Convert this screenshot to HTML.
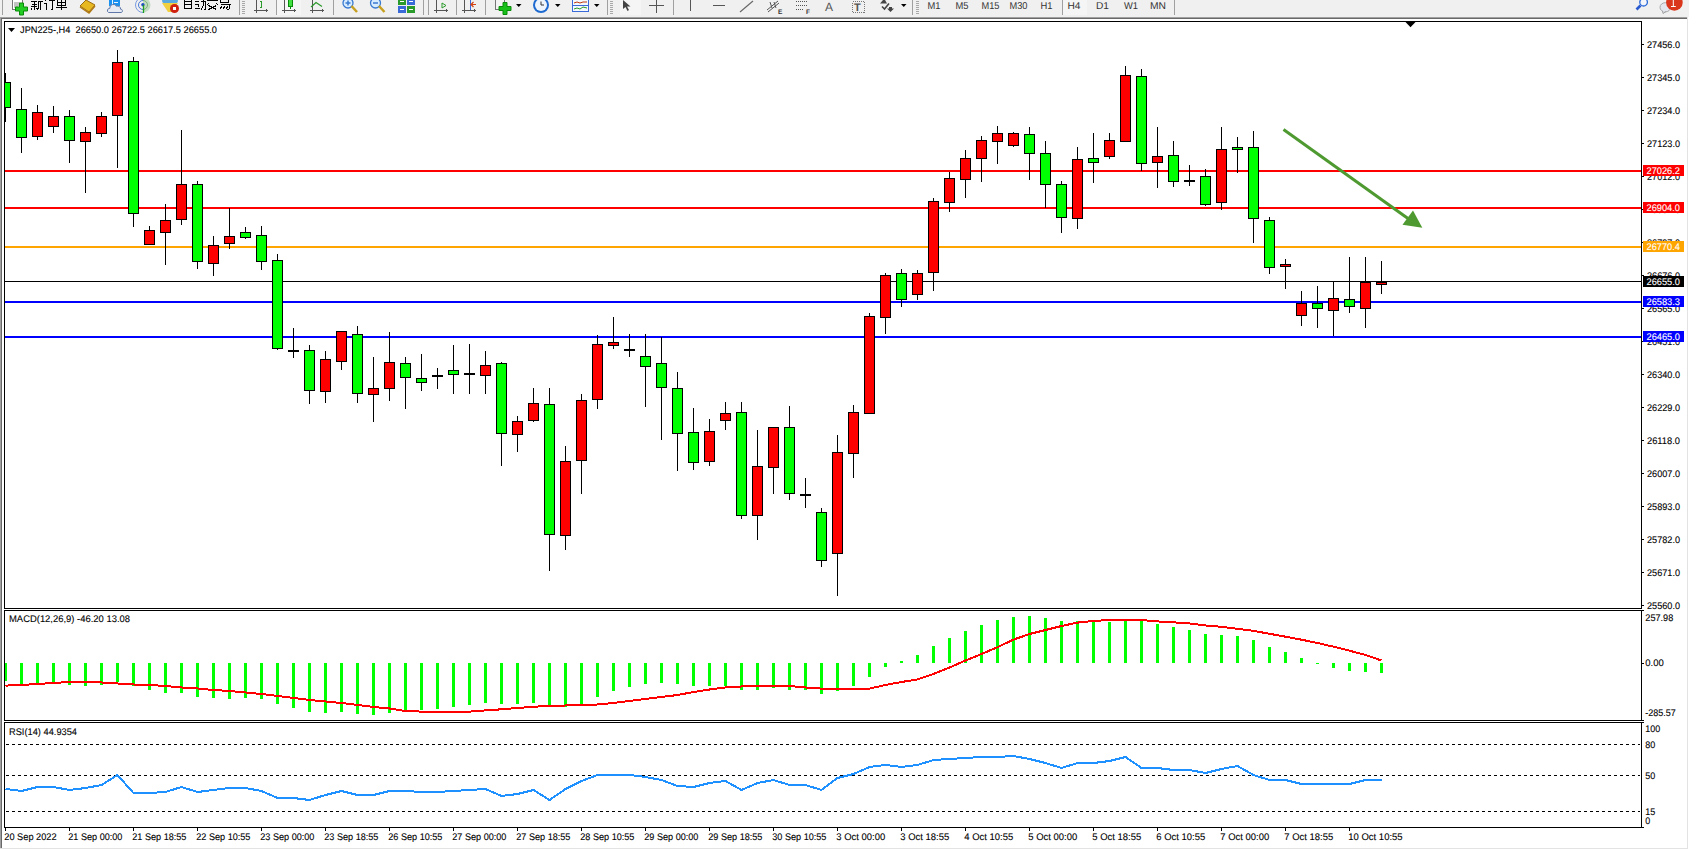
<!DOCTYPE html>
<html><head><meta charset="utf-8"><title>MT4 JPN225 H4</title>
<style>html,body{margin:0;padding:0;background:#fff;width:1689px;height:850px;overflow:hidden}</style>
</head><body>
<svg width="1689" height="850" viewBox="0 0 1689 850" style="display:block">
<rect x="0" y="0" width="1689" height="850" fill="#ffffff"/>
<rect x="0" y="0" width="1689" height="17" fill="#f0f0f0"/>
<g shape-rendering="crispEdges">
<rect x="0" y="17" width="1688" height="1" fill="#a0a0a0"/>
<rect x="1" y="18" width="1686" height="1" fill="#696969"/>
<rect x="0" y="17" width="1" height="832" fill="#a0a0a0"/>
<rect x="1" y="18" width="1" height="830" fill="#696969"/>
<rect x="1687" y="17" width="1" height="832" fill="#e3e3e3"/>
<rect x="0" y="848" width="1688" height="1" fill="#e3e3e3"/>
<rect x="4" y="21" width="1638" height="1" fill="#000"/>
<rect x="4" y="608" width="1638" height="1" fill="#000"/>
<rect x="4" y="21" width="1" height="588" fill="#000"/>
<rect x="1641" y="21" width="1" height="588" fill="#000"/>
<rect x="4" y="610" width="1638" height="1" fill="#000"/>
<rect x="4" y="720" width="1638" height="1" fill="#000"/>
<rect x="4" y="610" width="1" height="111" fill="#000"/>
<rect x="1641" y="610" width="1" height="111" fill="#000"/>
<rect x="4" y="722" width="1638" height="1" fill="#000"/>
<rect x="4" y="827" width="1638" height="1" fill="#000"/>
<rect x="4" y="722" width="1" height="106" fill="#000"/>
<rect x="1641" y="722" width="1" height="106" fill="#000"/>
<defs><clipPath id="cm"><rect x="5" y="22" width="1636" height="586"/></clipPath><clipPath id="cd"><rect x="5" y="611" width="1636" height="108"/></clipPath><clipPath id="cr"><rect x="5" y="723" width="1636" height="104"/></clipPath></defs>
<g clip-path="url(#cm)">
<rect x="5" y="170" width="1636" height="2" fill="#ff0000"/>
<rect x="5" y="207" width="1636" height="2" fill="#ff0000"/>
<rect x="5" y="246" width="1636" height="2" fill="#ffa500"/>
<rect x="5" y="281" width="1636" height="1" fill="#000"/>
<rect x="5" y="301" width="1636" height="2" fill="#0000ff"/>
<rect x="5" y="336" width="1636" height="2" fill="#0000ff"/>
<rect x="5" y="73" width="1" height="49" fill="#000"/>
<rect x="0" y="82" width="11" height="26" fill="#000"/>
<rect x="1" y="83" width="9" height="24" fill="#00ff00"/>
<rect x="21" y="88" width="1" height="65" fill="#000"/>
<rect x="16" y="109" width="11" height="29" fill="#000"/>
<rect x="17" y="110" width="9" height="27" fill="#00ff00"/>
<rect x="37" y="105" width="1" height="35" fill="#000"/>
<rect x="32" y="112" width="11" height="25" fill="#000"/>
<rect x="33" y="113" width="9" height="23" fill="#ff0000"/>
<rect x="53" y="106" width="1" height="27" fill="#000"/>
<rect x="48" y="116" width="11" height="11" fill="#000"/>
<rect x="49" y="117" width="9" height="9" fill="#ff0000"/>
<rect x="69" y="110" width="1" height="53" fill="#000"/>
<rect x="64" y="116" width="11" height="25" fill="#000"/>
<rect x="65" y="117" width="9" height="23" fill="#00ff00"/>
<rect x="85" y="127" width="1" height="66" fill="#000"/>
<rect x="80" y="132" width="11" height="10" fill="#000"/>
<rect x="81" y="133" width="9" height="8" fill="#ff0000"/>
<rect x="101" y="112" width="1" height="25" fill="#000"/>
<rect x="96" y="116" width="11" height="18" fill="#000"/>
<rect x="97" y="117" width="9" height="16" fill="#ff0000"/>
<rect x="117" y="50" width="1" height="118" fill="#000"/>
<rect x="112" y="62" width="11" height="54" fill="#000"/>
<rect x="113" y="63" width="9" height="52" fill="#ff0000"/>
<rect x="133" y="57" width="1" height="170" fill="#000"/>
<rect x="128" y="61" width="11" height="153" fill="#000"/>
<rect x="129" y="62" width="9" height="151" fill="#00ff00"/>
<rect x="149" y="226" width="1" height="19" fill="#000"/>
<rect x="144" y="230" width="11" height="15" fill="#000"/>
<rect x="145" y="231" width="9" height="13" fill="#ff0000"/>
<rect x="165" y="204" width="1" height="61" fill="#000"/>
<rect x="160" y="220" width="11" height="13" fill="#000"/>
<rect x="161" y="221" width="9" height="11" fill="#ff0000"/>
<rect x="181" y="130" width="1" height="95" fill="#000"/>
<rect x="176" y="184" width="11" height="36" fill="#000"/>
<rect x="177" y="185" width="9" height="34" fill="#ff0000"/>
<rect x="197" y="181" width="1" height="88" fill="#000"/>
<rect x="192" y="184" width="11" height="78" fill="#000"/>
<rect x="193" y="185" width="9" height="76" fill="#00ff00"/>
<rect x="213" y="236" width="1" height="40" fill="#000"/>
<rect x="208" y="245" width="11" height="19" fill="#000"/>
<rect x="209" y="246" width="9" height="17" fill="#ff0000"/>
<rect x="229" y="208" width="1" height="41" fill="#000"/>
<rect x="224" y="236" width="11" height="8" fill="#000"/>
<rect x="225" y="237" width="9" height="6" fill="#ff0000"/>
<rect x="245" y="227" width="1" height="12" fill="#000"/>
<rect x="240" y="232" width="11" height="6" fill="#000"/>
<rect x="241" y="233" width="9" height="4" fill="#00ff00"/>
<rect x="261" y="226" width="1" height="44" fill="#000"/>
<rect x="256" y="235" width="11" height="27" fill="#000"/>
<rect x="257" y="236" width="9" height="25" fill="#00ff00"/>
<rect x="277" y="254" width="1" height="96" fill="#000"/>
<rect x="272" y="260" width="11" height="89" fill="#000"/>
<rect x="273" y="261" width="9" height="87" fill="#00ff00"/>
<rect x="293" y="328" width="1" height="30" fill="#000"/>
<rect x="288" y="350" width="11" height="2" fill="#000"/>
<rect x="309" y="345" width="1" height="59" fill="#000"/>
<rect x="304" y="350" width="11" height="41" fill="#000"/>
<rect x="305" y="351" width="9" height="39" fill="#00ff00"/>
<rect x="325" y="351" width="1" height="52" fill="#000"/>
<rect x="320" y="359" width="11" height="33" fill="#000"/>
<rect x="321" y="360" width="9" height="31" fill="#ff0000"/>
<rect x="341" y="331" width="1" height="39" fill="#000"/>
<rect x="336" y="331" width="11" height="31" fill="#000"/>
<rect x="337" y="332" width="9" height="29" fill="#ff0000"/>
<rect x="357" y="326" width="1" height="77" fill="#000"/>
<rect x="352" y="334" width="11" height="60" fill="#000"/>
<rect x="353" y="335" width="9" height="58" fill="#00ff00"/>
<rect x="373" y="357" width="1" height="65" fill="#000"/>
<rect x="368" y="388" width="11" height="7" fill="#000"/>
<rect x="369" y="389" width="9" height="5" fill="#ff0000"/>
<rect x="389" y="332" width="1" height="69" fill="#000"/>
<rect x="384" y="362" width="11" height="27" fill="#000"/>
<rect x="385" y="363" width="9" height="25" fill="#ff0000"/>
<rect x="405" y="357" width="1" height="52" fill="#000"/>
<rect x="400" y="363" width="11" height="15" fill="#000"/>
<rect x="401" y="364" width="9" height="13" fill="#00ff00"/>
<rect x="421" y="354" width="1" height="37" fill="#000"/>
<rect x="416" y="378" width="11" height="5" fill="#000"/>
<rect x="417" y="379" width="9" height="3" fill="#00ff00"/>
<rect x="437" y="368" width="1" height="21" fill="#000"/>
<rect x="432" y="375" width="11" height="2" fill="#000"/>
<rect x="453" y="345" width="1" height="49" fill="#000"/>
<rect x="448" y="370" width="11" height="5" fill="#000"/>
<rect x="449" y="371" width="9" height="3" fill="#00ff00"/>
<rect x="469" y="344" width="1" height="50" fill="#000"/>
<rect x="464" y="373" width="11" height="2" fill="#000"/>
<rect x="485" y="351" width="1" height="43" fill="#000"/>
<rect x="480" y="365" width="11" height="11" fill="#000"/>
<rect x="481" y="366" width="9" height="9" fill="#ff0000"/>
<rect x="501" y="362" width="1" height="104" fill="#000"/>
<rect x="496" y="363" width="11" height="71" fill="#000"/>
<rect x="497" y="364" width="9" height="69" fill="#00ff00"/>
<rect x="517" y="416" width="1" height="36" fill="#000"/>
<rect x="512" y="421" width="11" height="14" fill="#000"/>
<rect x="513" y="422" width="9" height="12" fill="#ff0000"/>
<rect x="533" y="388" width="1" height="34" fill="#000"/>
<rect x="528" y="403" width="11" height="18" fill="#000"/>
<rect x="529" y="404" width="9" height="16" fill="#ff0000"/>
<rect x="549" y="388" width="1" height="183" fill="#000"/>
<rect x="544" y="404" width="11" height="131" fill="#000"/>
<rect x="545" y="405" width="9" height="129" fill="#00ff00"/>
<rect x="565" y="446" width="1" height="104" fill="#000"/>
<rect x="560" y="461" width="11" height="75" fill="#000"/>
<rect x="561" y="462" width="9" height="73" fill="#ff0000"/>
<rect x="581" y="394" width="1" height="100" fill="#000"/>
<rect x="576" y="400" width="11" height="61" fill="#000"/>
<rect x="577" y="401" width="9" height="59" fill="#ff0000"/>
<rect x="597" y="335" width="1" height="74" fill="#000"/>
<rect x="592" y="344" width="11" height="56" fill="#000"/>
<rect x="593" y="345" width="9" height="54" fill="#ff0000"/>
<rect x="613" y="317" width="1" height="32" fill="#000"/>
<rect x="608" y="342" width="11" height="4" fill="#000"/>
<rect x="609" y="343" width="9" height="2" fill="#ff0000"/>
<rect x="629" y="334" width="1" height="23" fill="#000"/>
<rect x="624" y="349" width="11" height="2" fill="#000"/>
<rect x="645" y="334" width="1" height="73" fill="#000"/>
<rect x="640" y="356" width="11" height="11" fill="#000"/>
<rect x="641" y="357" width="9" height="9" fill="#00ff00"/>
<rect x="661" y="337" width="1" height="103" fill="#000"/>
<rect x="656" y="363" width="11" height="25" fill="#000"/>
<rect x="657" y="364" width="9" height="23" fill="#00ff00"/>
<rect x="677" y="372" width="1" height="99" fill="#000"/>
<rect x="672" y="388" width="11" height="46" fill="#000"/>
<rect x="673" y="389" width="9" height="44" fill="#00ff00"/>
<rect x="693" y="408" width="1" height="62" fill="#000"/>
<rect x="688" y="432" width="11" height="31" fill="#000"/>
<rect x="689" y="433" width="9" height="29" fill="#00ff00"/>
<rect x="709" y="419" width="1" height="47" fill="#000"/>
<rect x="704" y="431" width="11" height="31" fill="#000"/>
<rect x="705" y="432" width="9" height="29" fill="#ff0000"/>
<rect x="725" y="402" width="1" height="28" fill="#000"/>
<rect x="720" y="413" width="11" height="8" fill="#000"/>
<rect x="721" y="414" width="9" height="6" fill="#ff0000"/>
<rect x="741" y="402" width="1" height="117" fill="#000"/>
<rect x="736" y="412" width="11" height="104" fill="#000"/>
<rect x="737" y="413" width="9" height="102" fill="#00ff00"/>
<rect x="757" y="430" width="1" height="110" fill="#000"/>
<rect x="752" y="466" width="11" height="50" fill="#000"/>
<rect x="753" y="467" width="9" height="48" fill="#ff0000"/>
<rect x="773" y="427" width="1" height="67" fill="#000"/>
<rect x="768" y="427" width="11" height="41" fill="#000"/>
<rect x="769" y="428" width="9" height="39" fill="#ff0000"/>
<rect x="789" y="406" width="1" height="94" fill="#000"/>
<rect x="784" y="427" width="11" height="67" fill="#000"/>
<rect x="785" y="428" width="9" height="65" fill="#00ff00"/>
<rect x="805" y="478" width="1" height="30" fill="#000"/>
<rect x="800" y="494" width="11" height="2" fill="#000"/>
<rect x="821" y="508" width="1" height="59" fill="#000"/>
<rect x="816" y="512" width="11" height="49" fill="#000"/>
<rect x="817" y="513" width="9" height="47" fill="#00ff00"/>
<rect x="837" y="435" width="1" height="161" fill="#000"/>
<rect x="832" y="452" width="11" height="102" fill="#000"/>
<rect x="833" y="453" width="9" height="100" fill="#ff0000"/>
<rect x="853" y="405" width="1" height="73" fill="#000"/>
<rect x="848" y="412" width="11" height="42" fill="#000"/>
<rect x="849" y="413" width="9" height="40" fill="#ff0000"/>
<rect x="869" y="313" width="1" height="101" fill="#000"/>
<rect x="864" y="316" width="11" height="98" fill="#000"/>
<rect x="865" y="317" width="9" height="96" fill="#ff0000"/>
<rect x="885" y="273" width="1" height="61" fill="#000"/>
<rect x="880" y="275" width="11" height="43" fill="#000"/>
<rect x="881" y="276" width="9" height="41" fill="#ff0000"/>
<rect x="901" y="269" width="1" height="38" fill="#000"/>
<rect x="896" y="273" width="11" height="27" fill="#000"/>
<rect x="897" y="274" width="9" height="25" fill="#00ff00"/>
<rect x="917" y="270" width="1" height="30" fill="#000"/>
<rect x="912" y="273" width="11" height="22" fill="#000"/>
<rect x="913" y="274" width="9" height="20" fill="#ff0000"/>
<rect x="933" y="198" width="1" height="93" fill="#000"/>
<rect x="928" y="201" width="11" height="72" fill="#000"/>
<rect x="929" y="202" width="9" height="70" fill="#ff0000"/>
<rect x="949" y="172" width="1" height="40" fill="#000"/>
<rect x="944" y="178" width="11" height="25" fill="#000"/>
<rect x="945" y="179" width="9" height="23" fill="#ff0000"/>
<rect x="965" y="150" width="1" height="48" fill="#000"/>
<rect x="960" y="158" width="11" height="22" fill="#000"/>
<rect x="961" y="159" width="9" height="20" fill="#ff0000"/>
<rect x="981" y="136" width="1" height="46" fill="#000"/>
<rect x="976" y="140" width="11" height="19" fill="#000"/>
<rect x="977" y="141" width="9" height="17" fill="#ff0000"/>
<rect x="997" y="126" width="1" height="38" fill="#000"/>
<rect x="992" y="133" width="11" height="9" fill="#000"/>
<rect x="993" y="134" width="9" height="7" fill="#ff0000"/>
<rect x="1013" y="132" width="1" height="15" fill="#000"/>
<rect x="1008" y="133" width="11" height="13" fill="#000"/>
<rect x="1009" y="134" width="9" height="11" fill="#ff0000"/>
<rect x="1029" y="127" width="1" height="53" fill="#000"/>
<rect x="1024" y="134" width="11" height="20" fill="#000"/>
<rect x="1025" y="135" width="9" height="18" fill="#00ff00"/>
<rect x="1045" y="141" width="1" height="67" fill="#000"/>
<rect x="1040" y="153" width="11" height="32" fill="#000"/>
<rect x="1041" y="154" width="9" height="30" fill="#00ff00"/>
<rect x="1061" y="181" width="1" height="52" fill="#000"/>
<rect x="1056" y="184" width="11" height="34" fill="#000"/>
<rect x="1057" y="185" width="9" height="32" fill="#00ff00"/>
<rect x="1077" y="147" width="1" height="82" fill="#000"/>
<rect x="1072" y="159" width="11" height="60" fill="#000"/>
<rect x="1073" y="160" width="9" height="58" fill="#ff0000"/>
<rect x="1093" y="133" width="1" height="50" fill="#000"/>
<rect x="1088" y="158" width="11" height="5" fill="#000"/>
<rect x="1089" y="159" width="9" height="3" fill="#00ff00"/>
<rect x="1109" y="133" width="1" height="26" fill="#000"/>
<rect x="1104" y="140" width="11" height="17" fill="#000"/>
<rect x="1105" y="141" width="9" height="15" fill="#ff0000"/>
<rect x="1125" y="66" width="1" height="76" fill="#000"/>
<rect x="1120" y="75" width="11" height="67" fill="#000"/>
<rect x="1121" y="76" width="9" height="65" fill="#ff0000"/>
<rect x="1141" y="69" width="1" height="102" fill="#000"/>
<rect x="1136" y="76" width="11" height="88" fill="#000"/>
<rect x="1137" y="77" width="9" height="86" fill="#00ff00"/>
<rect x="1157" y="127" width="1" height="61" fill="#000"/>
<rect x="1152" y="156" width="11" height="7" fill="#000"/>
<rect x="1153" y="157" width="9" height="5" fill="#ff0000"/>
<rect x="1173" y="141" width="1" height="46" fill="#000"/>
<rect x="1168" y="155" width="11" height="27" fill="#000"/>
<rect x="1169" y="156" width="9" height="25" fill="#00ff00"/>
<rect x="1189" y="165" width="1" height="21" fill="#000"/>
<rect x="1184" y="180" width="11" height="2" fill="#000"/>
<rect x="1205" y="169" width="1" height="37" fill="#000"/>
<rect x="1200" y="176" width="11" height="29" fill="#000"/>
<rect x="1201" y="177" width="9" height="27" fill="#00ff00"/>
<rect x="1221" y="127" width="1" height="83" fill="#000"/>
<rect x="1216" y="149" width="11" height="54" fill="#000"/>
<rect x="1217" y="150" width="9" height="52" fill="#ff0000"/>
<rect x="1237" y="137" width="1" height="36" fill="#000"/>
<rect x="1232" y="147" width="11" height="3" fill="#000"/>
<rect x="1233" y="148" width="9" height="1" fill="#00ff00"/>
<rect x="1253" y="131" width="1" height="112" fill="#000"/>
<rect x="1248" y="147" width="11" height="72" fill="#000"/>
<rect x="1249" y="148" width="9" height="70" fill="#00ff00"/>
<rect x="1269" y="217" width="1" height="57" fill="#000"/>
<rect x="1264" y="220" width="11" height="48" fill="#000"/>
<rect x="1265" y="221" width="9" height="46" fill="#00ff00"/>
<rect x="1285" y="259" width="1" height="30" fill="#000"/>
<rect x="1280" y="264" width="11" height="3" fill="#000"/>
<rect x="1281" y="265" width="9" height="1" fill="#ff0000"/>
<rect x="1301" y="291" width="1" height="35" fill="#000"/>
<rect x="1296" y="303" width="11" height="13" fill="#000"/>
<rect x="1297" y="304" width="9" height="11" fill="#ff0000"/>
<rect x="1317" y="286" width="1" height="42" fill="#000"/>
<rect x="1312" y="303" width="11" height="6" fill="#000"/>
<rect x="1313" y="304" width="9" height="4" fill="#00ff00"/>
<rect x="1333" y="282" width="1" height="54" fill="#000"/>
<rect x="1328" y="298" width="11" height="13" fill="#000"/>
<rect x="1329" y="299" width="9" height="11" fill="#ff0000"/>
<rect x="1349" y="257" width="1" height="56" fill="#000"/>
<rect x="1344" y="299" width="11" height="8" fill="#000"/>
<rect x="1345" y="300" width="9" height="6" fill="#00ff00"/>
<rect x="1365" y="257" width="1" height="71" fill="#000"/>
<rect x="1360" y="282" width="11" height="27" fill="#000"/>
<rect x="1361" y="283" width="9" height="25" fill="#ff0000"/>
<rect x="1381" y="261" width="1" height="33" fill="#000"/>
<rect x="1376" y="282" width="11" height="3" fill="#000"/>
<rect x="1377" y="283" width="9" height="1" fill="#ff0000"/>
</g>
<g clip-path="url(#cd)">
<rect x="4" y="663" width="3" height="18" fill="#00ff00"/>
<rect x="20" y="663" width="3" height="21" fill="#00ff00"/>
<rect x="36" y="663" width="3" height="21" fill="#00ff00"/>
<rect x="52" y="663" width="3" height="20" fill="#00ff00"/>
<rect x="68" y="663" width="3" height="22" fill="#00ff00"/>
<rect x="84" y="663" width="3" height="23" fill="#00ff00"/>
<rect x="100" y="663" width="3" height="22" fill="#00ff00"/>
<rect x="116" y="663" width="3" height="19" fill="#00ff00"/>
<rect x="132" y="663" width="3" height="23" fill="#00ff00"/>
<rect x="148" y="663" width="3" height="27" fill="#00ff00"/>
<rect x="164" y="663" width="3" height="30" fill="#00ff00"/>
<rect x="180" y="663" width="3" height="30" fill="#00ff00"/>
<rect x="196" y="663" width="3" height="34" fill="#00ff00"/>
<rect x="212" y="663" width="3" height="35" fill="#00ff00"/>
<rect x="228" y="663" width="3" height="36" fill="#00ff00"/>
<rect x="244" y="663" width="3" height="35" fill="#00ff00"/>
<rect x="260" y="663" width="3" height="36" fill="#00ff00"/>
<rect x="276" y="663" width="3" height="41" fill="#00ff00"/>
<rect x="292" y="663" width="3" height="45" fill="#00ff00"/>
<rect x="308" y="663" width="3" height="49" fill="#00ff00"/>
<rect x="324" y="663" width="3" height="50" fill="#00ff00"/>
<rect x="340" y="663" width="3" height="49" fill="#00ff00"/>
<rect x="356" y="663" width="3" height="51" fill="#00ff00"/>
<rect x="372" y="663" width="3" height="52" fill="#00ff00"/>
<rect x="388" y="663" width="3" height="50" fill="#00ff00"/>
<rect x="404" y="663" width="3" height="48" fill="#00ff00"/>
<rect x="420" y="663" width="3" height="47" fill="#00ff00"/>
<rect x="436" y="663" width="3" height="46" fill="#00ff00"/>
<rect x="452" y="663" width="3" height="44" fill="#00ff00"/>
<rect x="468" y="663" width="3" height="42" fill="#00ff00"/>
<rect x="484" y="663" width="3" height="40" fill="#00ff00"/>
<rect x="500" y="663" width="3" height="41" fill="#00ff00"/>
<rect x="516" y="663" width="3" height="41" fill="#00ff00"/>
<rect x="532" y="663" width="3" height="40" fill="#00ff00"/>
<rect x="548" y="663" width="3" height="44" fill="#00ff00"/>
<rect x="564" y="663" width="3" height="44" fill="#00ff00"/>
<rect x="580" y="663" width="3" height="41" fill="#00ff00"/>
<rect x="596" y="663" width="3" height="34" fill="#00ff00"/>
<rect x="612" y="663" width="3" height="28" fill="#00ff00"/>
<rect x="628" y="663" width="3" height="24" fill="#00ff00"/>
<rect x="644" y="663" width="3" height="21" fill="#00ff00"/>
<rect x="660" y="663" width="3" height="20" fill="#00ff00"/>
<rect x="676" y="663" width="3" height="21" fill="#00ff00"/>
<rect x="692" y="663" width="3" height="23" fill="#00ff00"/>
<rect x="708" y="663" width="3" height="23" fill="#00ff00"/>
<rect x="724" y="663" width="3" height="23" fill="#00ff00"/>
<rect x="740" y="663" width="3" height="27" fill="#00ff00"/>
<rect x="756" y="663" width="3" height="27" fill="#00ff00"/>
<rect x="772" y="663" width="3" height="25" fill="#00ff00"/>
<rect x="788" y="663" width="3" height="27" fill="#00ff00"/>
<rect x="804" y="663" width="3" height="27" fill="#00ff00"/>
<rect x="820" y="663" width="3" height="31" fill="#00ff00"/>
<rect x="836" y="663" width="3" height="28" fill="#00ff00"/>
<rect x="852" y="663" width="3" height="23" fill="#00ff00"/>
<rect x="868" y="663" width="3" height="14" fill="#00ff00"/>
<rect x="884" y="663" width="3" height="4" fill="#00ff00"/>
<rect x="900" y="661" width="3" height="2" fill="#00ff00"/>
<rect x="916" y="655" width="3" height="8" fill="#00ff00"/>
<rect x="932" y="646" width="3" height="17" fill="#00ff00"/>
<rect x="948" y="638" width="3" height="25" fill="#00ff00"/>
<rect x="964" y="631" width="3" height="32" fill="#00ff00"/>
<rect x="980" y="625" width="3" height="38" fill="#00ff00"/>
<rect x="996" y="620" width="3" height="43" fill="#00ff00"/>
<rect x="1012" y="617" width="3" height="46" fill="#00ff00"/>
<rect x="1028" y="616" width="3" height="47" fill="#00ff00"/>
<rect x="1044" y="618" width="3" height="45" fill="#00ff00"/>
<rect x="1060" y="621" width="3" height="42" fill="#00ff00"/>
<rect x="1076" y="621" width="3" height="42" fill="#00ff00"/>
<rect x="1092" y="622" width="3" height="41" fill="#00ff00"/>
<rect x="1108" y="622" width="3" height="41" fill="#00ff00"/>
<rect x="1124" y="620" width="3" height="43" fill="#00ff00"/>
<rect x="1140" y="621" width="3" height="42" fill="#00ff00"/>
<rect x="1156" y="624" width="3" height="39" fill="#00ff00"/>
<rect x="1172" y="627" width="3" height="36" fill="#00ff00"/>
<rect x="1188" y="630" width="3" height="33" fill="#00ff00"/>
<rect x="1204" y="634" width="3" height="29" fill="#00ff00"/>
<rect x="1220" y="635" width="3" height="28" fill="#00ff00"/>
<rect x="1236" y="636" width="3" height="27" fill="#00ff00"/>
<rect x="1252" y="640" width="3" height="23" fill="#00ff00"/>
<rect x="1268" y="647" width="3" height="16" fill="#00ff00"/>
<rect x="1284" y="652" width="3" height="11" fill="#00ff00"/>
<rect x="1300" y="658" width="3" height="5" fill="#00ff00"/>
<rect x="1316" y="663" width="3" height="1" fill="#00ff00"/>
<rect x="1332" y="663" width="3" height="5" fill="#00ff00"/>
<rect x="1348" y="663" width="3" height="8" fill="#00ff00"/>
<rect x="1364" y="663" width="3" height="9" fill="#00ff00"/>
<rect x="1380" y="663" width="3" height="10" fill="#00ff00"/>
</g>
</g>
<g clip-path="url(#cd)">
<polyline fill="none" stroke="#ff0000" stroke-width="2" shape-rendering="crispEdges" points="5.5,685.6 21.5,685 37.5,684 53.5,683 69.5,682 85.5,682 101.5,682.5 117.5,683.5 133.5,684.5 149.5,685 165.5,686 181.5,687.5 197.5,688.5 213.5,690 229.5,691 245.5,692.5 261.5,694 277.5,696 293.5,698 309.5,700 325.5,701.5 341.5,703 357.5,705 373.5,707 389.5,708.5 405.5,711 421.5,711.6 437.5,711.6 453.5,711.6 469.5,711.6 485.5,710.4 501.5,709.3 517.5,708 533.5,706.7 549.5,706 565.5,705.5 581.5,705 597.5,704.5 613.5,703 629.5,701 645.5,699 661.5,697 677.5,695 693.5,692 709.5,689.5 725.5,687.5 741.5,686.5 757.5,686 773.5,686 789.5,686 805.5,687.5 821.5,688.6 837.5,688.6 853.5,688.6 869.5,688.6 885.5,685 901.5,682 917.5,679.4 933.5,674 949.5,667.5 965.5,660.5 981.5,654 997.5,647.2 1013.5,639.6 1029.5,634 1045.5,630 1061.5,626 1077.5,622.6 1093.5,621 1109.5,620 1125.5,620 1141.5,620 1157.5,621.4 1173.5,622.3 1189.5,623.5 1205.5,625.5 1221.5,626.8 1237.5,628.8 1253.5,630.8 1269.5,633.8 1285.5,636.7 1301.5,639.7 1317.5,643 1333.5,646.7 1349.5,650.7 1365.5,655 1381.5,660.5"/>
</g>
<g shape-rendering="crispEdges">
<line x1="6" y1="744.5" x2="1640" y2="744.5" stroke="#000" stroke-width="1" stroke-dasharray="3,3"/>
<line x1="6" y1="775.5" x2="1640" y2="775.5" stroke="#000" stroke-width="1" stroke-dasharray="3,3"/>
<line x1="6" y1="811.5" x2="1640" y2="811.5" stroke="#000" stroke-width="1" stroke-dasharray="3,3"/>
</g>
<g clip-path="url(#cr)">
<polyline fill="none" stroke="#1e90ff" stroke-width="2" shape-rendering="crispEdges" points="5.5,789 21.5,791 37.5,787 53.5,787 69.5,790 85.5,788 101.5,785 117.5,775 133.5,793 149.5,793 165.5,792 181.5,787 197.5,792 213.5,790 229.5,788 245.5,788 261.5,791 277.5,798 293.5,798 309.5,800 325.5,795 341.5,791 357.5,795 373.5,795 389.5,791 405.5,791 421.5,792 437.5,792 453.5,791 469.5,790 485.5,789 501.5,796 517.5,794 533.5,790 549.5,800 565.5,789 581.5,781 597.5,775 613.5,775 629.5,775 645.5,777 661.5,780 677.5,786 693.5,787 709.5,783 725.5,781 741.5,790 757.5,783 773.5,780 789.5,785 805.5,785 821.5,790 837.5,778 853.5,774 869.5,767 885.5,765 901.5,767 917.5,765 933.5,760 949.5,759 965.5,758 981.5,757 997.5,757 1013.5,756 1029.5,759 1045.5,763 1061.5,768 1077.5,763 1093.5,763 1109.5,761 1125.5,757 1141.5,768 1157.5,768 1173.5,770 1189.5,770 1205.5,773 1221.5,769 1237.5,766 1253.5,775 1269.5,780 1285.5,780 1301.5,784 1317.5,784 1333.5,784 1349.5,784 1365.5,780 1381.5,780"/>
</g>
<g fill="#4e9a30" stroke="none">
<line x1="1283.5" y1="129.5" x2="1408" y2="218.5" stroke="#4e9a30" stroke-width="3"/>
<polygon points="1413,210.5 1402.5,224.8 1422.3,227.8"/>
</g>
<polygon points="1405.5,22 1415.5,22 1410.5,27.2" fill="#000"/>
<polygon points="8,28 15,28 11.5,32" fill="#000"/>
<text x="20" y="32.5" font-size="9.6" fill="#000" stroke="#000" stroke-width="0.1" text-anchor="start" style="font-family:'Liberation Sans',sans-serif;text-rendering:geometricPrecision" xml:space="preserve" textLength="197" lengthAdjust="spacingAndGlyphs">JPN225-,H4  26650.0 26722.5 26617.5 26655.0</text>
<text x="9" y="622.4" font-size="9.6" fill="#000" stroke="#000" stroke-width="0.1" text-anchor="start" style="font-family:'Liberation Sans',sans-serif;text-rendering:geometricPrecision" xml:space="preserve" textLength="121" lengthAdjust="spacingAndGlyphs">MACD(12,26,9) -46.20 13.08</text>
<text x="9" y="735" font-size="9.6" fill="#000" stroke="#000" stroke-width="0.1" text-anchor="start" style="font-family:'Liberation Sans',sans-serif;text-rendering:geometricPrecision" xml:space="preserve" textLength="68" lengthAdjust="spacingAndGlyphs">RSI(14) 44.9354</text>
<g shape-rendering="crispEdges">
<rect x="1642" y="44" width="2" height="1" fill="#000"/>
<rect x="1642" y="77" width="2" height="1" fill="#000"/>
<rect x="1642" y="110" width="2" height="1" fill="#000"/>
<rect x="1642" y="143" width="2" height="1" fill="#000"/>
<rect x="1642" y="176" width="2" height="1" fill="#000"/>
<rect x="1642" y="209" width="2" height="1" fill="#000"/>
<rect x="1642" y="242" width="2" height="1" fill="#000"/>
<rect x="1642" y="275" width="2" height="1" fill="#000"/>
<rect x="1642" y="308" width="2" height="1" fill="#000"/>
<rect x="1642" y="341" width="2" height="1" fill="#000"/>
<rect x="1642" y="374" width="2" height="1" fill="#000"/>
<rect x="1642" y="407" width="2" height="1" fill="#000"/>
<rect x="1642" y="440" width="2" height="1" fill="#000"/>
<rect x="1642" y="473" width="2" height="1" fill="#000"/>
<rect x="1642" y="506" width="2" height="1" fill="#000"/>
<rect x="1642" y="539" width="2" height="1" fill="#000"/>
<rect x="1642" y="572" width="2" height="1" fill="#000"/>
<rect x="1642" y="605" width="2" height="1" fill="#000"/>
</g>
<text x="1647" y="47.5" font-size="9.6" fill="#000" stroke="#000" stroke-width="0.1" text-anchor="start" style="font-family:'Liberation Sans',sans-serif;text-rendering:geometricPrecision" xml:space="preserve" textLength="33" lengthAdjust="spacingAndGlyphs">27456.0</text>
<text x="1647" y="80.5" font-size="9.6" fill="#000" stroke="#000" stroke-width="0.1" text-anchor="start" style="font-family:'Liberation Sans',sans-serif;text-rendering:geometricPrecision" xml:space="preserve" textLength="33" lengthAdjust="spacingAndGlyphs">27345.0</text>
<text x="1647" y="113.5" font-size="9.6" fill="#000" stroke="#000" stroke-width="0.1" text-anchor="start" style="font-family:'Liberation Sans',sans-serif;text-rendering:geometricPrecision" xml:space="preserve" textLength="33" lengthAdjust="spacingAndGlyphs">27234.0</text>
<text x="1647" y="146.5" font-size="9.6" fill="#000" stroke="#000" stroke-width="0.1" text-anchor="start" style="font-family:'Liberation Sans',sans-serif;text-rendering:geometricPrecision" xml:space="preserve" textLength="33" lengthAdjust="spacingAndGlyphs">27123.0</text>
<text x="1647" y="179.5" font-size="9.6" fill="#000" stroke="#000" stroke-width="0.1" text-anchor="start" style="font-family:'Liberation Sans',sans-serif;text-rendering:geometricPrecision" xml:space="preserve" textLength="33" lengthAdjust="spacingAndGlyphs">27012.0</text>
<text x="1647" y="212.5" font-size="9.6" fill="#000" stroke="#000" stroke-width="0.1" text-anchor="start" style="font-family:'Liberation Sans',sans-serif;text-rendering:geometricPrecision" xml:space="preserve" textLength="33" lengthAdjust="spacingAndGlyphs">26901.0</text>
<text x="1647" y="245.5" font-size="9.6" fill="#000" stroke="#000" stroke-width="0.1" text-anchor="start" style="font-family:'Liberation Sans',sans-serif;text-rendering:geometricPrecision" xml:space="preserve" textLength="33" lengthAdjust="spacingAndGlyphs">26797.0</text>
<text x="1647" y="278.5" font-size="9.6" fill="#000" stroke="#000" stroke-width="0.1" text-anchor="start" style="font-family:'Liberation Sans',sans-serif;text-rendering:geometricPrecision" xml:space="preserve" textLength="33" lengthAdjust="spacingAndGlyphs">26676.0</text>
<text x="1647" y="311.5" font-size="9.6" fill="#000" stroke="#000" stroke-width="0.1" text-anchor="start" style="font-family:'Liberation Sans',sans-serif;text-rendering:geometricPrecision" xml:space="preserve" textLength="33" lengthAdjust="spacingAndGlyphs">26565.0</text>
<text x="1647" y="344.5" font-size="9.6" fill="#000" stroke="#000" stroke-width="0.1" text-anchor="start" style="font-family:'Liberation Sans',sans-serif;text-rendering:geometricPrecision" xml:space="preserve" textLength="33" lengthAdjust="spacingAndGlyphs">26451.0</text>
<text x="1647" y="377.5" font-size="9.6" fill="#000" stroke="#000" stroke-width="0.1" text-anchor="start" style="font-family:'Liberation Sans',sans-serif;text-rendering:geometricPrecision" xml:space="preserve" textLength="33" lengthAdjust="spacingAndGlyphs">26340.0</text>
<text x="1647" y="410.5" font-size="9.6" fill="#000" stroke="#000" stroke-width="0.1" text-anchor="start" style="font-family:'Liberation Sans',sans-serif;text-rendering:geometricPrecision" xml:space="preserve" textLength="33" lengthAdjust="spacingAndGlyphs">26229.0</text>
<text x="1647" y="443.5" font-size="9.6" fill="#000" stroke="#000" stroke-width="0.1" text-anchor="start" style="font-family:'Liberation Sans',sans-serif;text-rendering:geometricPrecision" xml:space="preserve" textLength="33" lengthAdjust="spacingAndGlyphs">26118.0</text>
<text x="1647" y="476.5" font-size="9.6" fill="#000" stroke="#000" stroke-width="0.1" text-anchor="start" style="font-family:'Liberation Sans',sans-serif;text-rendering:geometricPrecision" xml:space="preserve" textLength="33" lengthAdjust="spacingAndGlyphs">26007.0</text>
<text x="1647" y="509.5" font-size="9.6" fill="#000" stroke="#000" stroke-width="0.1" text-anchor="start" style="font-family:'Liberation Sans',sans-serif;text-rendering:geometricPrecision" xml:space="preserve" textLength="33" lengthAdjust="spacingAndGlyphs">25893.0</text>
<text x="1647" y="542.5" font-size="9.6" fill="#000" stroke="#000" stroke-width="0.1" text-anchor="start" style="font-family:'Liberation Sans',sans-serif;text-rendering:geometricPrecision" xml:space="preserve" textLength="33" lengthAdjust="spacingAndGlyphs">25782.0</text>
<text x="1647" y="575.5" font-size="9.6" fill="#000" stroke="#000" stroke-width="0.1" text-anchor="start" style="font-family:'Liberation Sans',sans-serif;text-rendering:geometricPrecision" xml:space="preserve" textLength="33" lengthAdjust="spacingAndGlyphs">25671.0</text>
<text x="1647" y="608.5" font-size="9.6" fill="#000" stroke="#000" stroke-width="0.1" text-anchor="start" style="font-family:'Liberation Sans',sans-serif;text-rendering:geometricPrecision" xml:space="preserve" textLength="33" lengthAdjust="spacingAndGlyphs">25560.0</text>
<rect x="1643" y="165" width="41" height="11" fill="#ff0000" shape-rendering="crispEdges"/>
<text x="1646.5" y="174" font-size="9.6" fill="#fff" stroke="#fff" stroke-width="0.1" text-anchor="start" style="font-family:'Liberation Sans',sans-serif;text-rendering:geometricPrecision" xml:space="preserve" textLength="33.5" lengthAdjust="spacingAndGlyphs">27026.2</text>
<rect x="1643" y="202" width="41" height="11" fill="#ff0000" shape-rendering="crispEdges"/>
<text x="1646.5" y="211" font-size="9.6" fill="#fff" stroke="#fff" stroke-width="0.1" text-anchor="start" style="font-family:'Liberation Sans',sans-serif;text-rendering:geometricPrecision" xml:space="preserve" textLength="33.5" lengthAdjust="spacingAndGlyphs">26904.0</text>
<rect x="1643" y="241" width="41" height="11" fill="#ffa500" shape-rendering="crispEdges"/>
<text x="1646.5" y="250" font-size="9.6" fill="#fff" stroke="#fff" stroke-width="0.1" text-anchor="start" style="font-family:'Liberation Sans',sans-serif;text-rendering:geometricPrecision" xml:space="preserve" textLength="33.5" lengthAdjust="spacingAndGlyphs">26770.4</text>
<rect x="1643" y="276" width="41" height="11" fill="#000" shape-rendering="crispEdges"/>
<text x="1646.5" y="285" font-size="9.6" fill="#fff" stroke="#fff" stroke-width="0.1" text-anchor="start" style="font-family:'Liberation Sans',sans-serif;text-rendering:geometricPrecision" xml:space="preserve" textLength="33.5" lengthAdjust="spacingAndGlyphs">26655.0</text>
<rect x="1643" y="296" width="41" height="11" fill="#0000ff" shape-rendering="crispEdges"/>
<text x="1646.5" y="305" font-size="9.6" fill="#fff" stroke="#fff" stroke-width="0.1" text-anchor="start" style="font-family:'Liberation Sans',sans-serif;text-rendering:geometricPrecision" xml:space="preserve" textLength="33.5" lengthAdjust="spacingAndGlyphs">26583.3</text>
<rect x="1643" y="331" width="41" height="11" fill="#0000ff" shape-rendering="crispEdges"/>
<text x="1646.5" y="340" font-size="9.6" fill="#fff" stroke="#fff" stroke-width="0.1" text-anchor="start" style="font-family:'Liberation Sans',sans-serif;text-rendering:geometricPrecision" xml:space="preserve" textLength="33.5" lengthAdjust="spacingAndGlyphs">26465.0</text>
<g shape-rendering="crispEdges">
<rect x="1642" y="663" width="2" height="1" fill="#000"/>
<rect x="1642" y="722" width="2" height="1" fill="#000"/>
<rect x="1642" y="827" width="2" height="1" fill="#000"/>
<rect x="1642" y="610" width="2" height="1" fill="#000"/>
<rect x="1642" y="720" width="2" height="1" fill="#000"/>
</g>
<text x="1645.3" y="620.8" font-size="9.6" fill="#000" stroke="#000" stroke-width="0.1" text-anchor="start" style="font-family:'Liberation Sans',sans-serif;text-rendering:geometricPrecision" xml:space="preserve" textLength="28" lengthAdjust="spacingAndGlyphs">257.98</text>
<text x="1645.3" y="666.3" font-size="9.6" fill="#000" stroke="#000" stroke-width="0.1" text-anchor="start" style="font-family:'Liberation Sans',sans-serif;text-rendering:geometricPrecision" xml:space="preserve" textLength="18.5" lengthAdjust="spacingAndGlyphs">0.00</text>
<text x="1645.3" y="716.3" font-size="9.6" fill="#000" stroke="#000" stroke-width="0.1" text-anchor="start" style="font-family:'Liberation Sans',sans-serif;text-rendering:geometricPrecision" xml:space="preserve" textLength="30.5" lengthAdjust="spacingAndGlyphs">-285.57</text>
<text x="1645.3" y="732.4" font-size="9.6" fill="#000" stroke="#000" stroke-width="0.1" text-anchor="start" style="font-family:'Liberation Sans',sans-serif;text-rendering:geometricPrecision" xml:space="preserve" textLength="15" lengthAdjust="spacingAndGlyphs">100</text>
<text x="1645.3" y="747.6" font-size="9.6" fill="#000" stroke="#000" stroke-width="0.1" text-anchor="start" style="font-family:'Liberation Sans',sans-serif;text-rendering:geometricPrecision" xml:space="preserve" textLength="10" lengthAdjust="spacingAndGlyphs">80</text>
<text x="1645.3" y="778.6" font-size="9.6" fill="#000" stroke="#000" stroke-width="0.1" text-anchor="start" style="font-family:'Liberation Sans',sans-serif;text-rendering:geometricPrecision" xml:space="preserve" textLength="10" lengthAdjust="spacingAndGlyphs">50</text>
<text x="1645.3" y="814.7" font-size="9.6" fill="#000" stroke="#000" stroke-width="0.1" text-anchor="start" style="font-family:'Liberation Sans',sans-serif;text-rendering:geometricPrecision" xml:space="preserve" textLength="10" lengthAdjust="spacingAndGlyphs">15</text>
<text x="1645.3" y="823.6" font-size="9.6" fill="#000" stroke="#000" stroke-width="0.1" text-anchor="start" style="font-family:'Liberation Sans',sans-serif;text-rendering:geometricPrecision" xml:space="preserve" textLength="5" lengthAdjust="spacingAndGlyphs">0</text>
<g shape-rendering="crispEdges">
<rect x="5" y="828" width="1" height="3" fill="#000"/>
<rect x="69" y="828" width="1" height="3" fill="#000"/>
<rect x="133" y="828" width="1" height="3" fill="#000"/>
<rect x="197" y="828" width="1" height="3" fill="#000"/>
<rect x="261" y="828" width="1" height="3" fill="#000"/>
<rect x="325" y="828" width="1" height="3" fill="#000"/>
<rect x="389" y="828" width="1" height="3" fill="#000"/>
<rect x="453" y="828" width="1" height="3" fill="#000"/>
<rect x="517" y="828" width="1" height="3" fill="#000"/>
<rect x="581" y="828" width="1" height="3" fill="#000"/>
<rect x="645" y="828" width="1" height="3" fill="#000"/>
<rect x="709" y="828" width="1" height="3" fill="#000"/>
<rect x="773" y="828" width="1" height="3" fill="#000"/>
<rect x="837" y="828" width="1" height="3" fill="#000"/>
<rect x="901" y="828" width="1" height="3" fill="#000"/>
<rect x="965" y="828" width="1" height="3" fill="#000"/>
<rect x="1029" y="828" width="1" height="3" fill="#000"/>
<rect x="1093" y="828" width="1" height="3" fill="#000"/>
<rect x="1157" y="828" width="1" height="3" fill="#000"/>
<rect x="1221" y="828" width="1" height="3" fill="#000"/>
<rect x="1285" y="828" width="1" height="3" fill="#000"/>
<rect x="1349" y="828" width="1" height="3" fill="#000"/>
</g>
<text x="4.3" y="840" font-size="9.6" fill="#000" stroke="#000" stroke-width="0.1" text-anchor="start" style="font-family:'Liberation Sans',sans-serif;text-rendering:geometricPrecision" xml:space="preserve" textLength="52.300000000000004" lengthAdjust="spacingAndGlyphs">20 Sep 2022</text>
<text x="68.3" y="840" font-size="9.6" fill="#000" stroke="#000" stroke-width="0.1" text-anchor="start" style="font-family:'Liberation Sans',sans-serif;text-rendering:geometricPrecision" xml:space="preserve" textLength="54.1" lengthAdjust="spacingAndGlyphs">21 Sep 00:00</text>
<text x="132.3" y="840" font-size="9.6" fill="#000" stroke="#000" stroke-width="0.1" text-anchor="start" style="font-family:'Liberation Sans',sans-serif;text-rendering:geometricPrecision" xml:space="preserve" textLength="54.1" lengthAdjust="spacingAndGlyphs">21 Sep 18:55</text>
<text x="196.3" y="840" font-size="9.6" fill="#000" stroke="#000" stroke-width="0.1" text-anchor="start" style="font-family:'Liberation Sans',sans-serif;text-rendering:geometricPrecision" xml:space="preserve" textLength="54.1" lengthAdjust="spacingAndGlyphs">22 Sep 10:55</text>
<text x="260.3" y="840" font-size="9.6" fill="#000" stroke="#000" stroke-width="0.1" text-anchor="start" style="font-family:'Liberation Sans',sans-serif;text-rendering:geometricPrecision" xml:space="preserve" textLength="54.1" lengthAdjust="spacingAndGlyphs">23 Sep 00:00</text>
<text x="324.3" y="840" font-size="9.6" fill="#000" stroke="#000" stroke-width="0.1" text-anchor="start" style="font-family:'Liberation Sans',sans-serif;text-rendering:geometricPrecision" xml:space="preserve" textLength="54.1" lengthAdjust="spacingAndGlyphs">23 Sep 18:55</text>
<text x="388.3" y="840" font-size="9.6" fill="#000" stroke="#000" stroke-width="0.1" text-anchor="start" style="font-family:'Liberation Sans',sans-serif;text-rendering:geometricPrecision" xml:space="preserve" textLength="54.1" lengthAdjust="spacingAndGlyphs">26 Sep 10:55</text>
<text x="452.3" y="840" font-size="9.6" fill="#000" stroke="#000" stroke-width="0.1" text-anchor="start" style="font-family:'Liberation Sans',sans-serif;text-rendering:geometricPrecision" xml:space="preserve" textLength="54.1" lengthAdjust="spacingAndGlyphs">27 Sep 00:00</text>
<text x="516.3" y="840" font-size="9.6" fill="#000" stroke="#000" stroke-width="0.1" text-anchor="start" style="font-family:'Liberation Sans',sans-serif;text-rendering:geometricPrecision" xml:space="preserve" textLength="54.1" lengthAdjust="spacingAndGlyphs">27 Sep 18:55</text>
<text x="580.3" y="840" font-size="9.6" fill="#000" stroke="#000" stroke-width="0.1" text-anchor="start" style="font-family:'Liberation Sans',sans-serif;text-rendering:geometricPrecision" xml:space="preserve" textLength="54.1" lengthAdjust="spacingAndGlyphs">28 Sep 10:55</text>
<text x="644.3" y="840" font-size="9.6" fill="#000" stroke="#000" stroke-width="0.1" text-anchor="start" style="font-family:'Liberation Sans',sans-serif;text-rendering:geometricPrecision" xml:space="preserve" textLength="54.1" lengthAdjust="spacingAndGlyphs">29 Sep 00:00</text>
<text x="708.3" y="840" font-size="9.6" fill="#000" stroke="#000" stroke-width="0.1" text-anchor="start" style="font-family:'Liberation Sans',sans-serif;text-rendering:geometricPrecision" xml:space="preserve" textLength="54.1" lengthAdjust="spacingAndGlyphs">29 Sep 18:55</text>
<text x="772.3" y="840" font-size="9.6" fill="#000" stroke="#000" stroke-width="0.1" text-anchor="start" style="font-family:'Liberation Sans',sans-serif;text-rendering:geometricPrecision" xml:space="preserve" textLength="54.1" lengthAdjust="spacingAndGlyphs">30 Sep 10:55</text>
<text x="836.3" y="840" font-size="9.6" fill="#000" stroke="#000" stroke-width="0.1" text-anchor="start" style="font-family:'Liberation Sans',sans-serif;text-rendering:geometricPrecision" xml:space="preserve" textLength="48.900000000000006" lengthAdjust="spacingAndGlyphs">3 Oct 00:00</text>
<text x="900.3" y="840" font-size="9.6" fill="#000" stroke="#000" stroke-width="0.1" text-anchor="start" style="font-family:'Liberation Sans',sans-serif;text-rendering:geometricPrecision" xml:space="preserve" textLength="48.900000000000006" lengthAdjust="spacingAndGlyphs">3 Oct 18:55</text>
<text x="964.3" y="840" font-size="9.6" fill="#000" stroke="#000" stroke-width="0.1" text-anchor="start" style="font-family:'Liberation Sans',sans-serif;text-rendering:geometricPrecision" xml:space="preserve" textLength="48.900000000000006" lengthAdjust="spacingAndGlyphs">4 Oct 10:55</text>
<text x="1028.3" y="840" font-size="9.6" fill="#000" stroke="#000" stroke-width="0.1" text-anchor="start" style="font-family:'Liberation Sans',sans-serif;text-rendering:geometricPrecision" xml:space="preserve" textLength="48.900000000000006" lengthAdjust="spacingAndGlyphs">5 Oct 00:00</text>
<text x="1092.3" y="840" font-size="9.6" fill="#000" stroke="#000" stroke-width="0.1" text-anchor="start" style="font-family:'Liberation Sans',sans-serif;text-rendering:geometricPrecision" xml:space="preserve" textLength="48.900000000000006" lengthAdjust="spacingAndGlyphs">5 Oct 18:55</text>
<text x="1156.3" y="840" font-size="9.6" fill="#000" stroke="#000" stroke-width="0.1" text-anchor="start" style="font-family:'Liberation Sans',sans-serif;text-rendering:geometricPrecision" xml:space="preserve" textLength="48.900000000000006" lengthAdjust="spacingAndGlyphs">6 Oct 10:55</text>
<text x="1220.3" y="840" font-size="9.6" fill="#000" stroke="#000" stroke-width="0.1" text-anchor="start" style="font-family:'Liberation Sans',sans-serif;text-rendering:geometricPrecision" xml:space="preserve" textLength="48.900000000000006" lengthAdjust="spacingAndGlyphs">7 Oct 00:00</text>
<text x="1284.3" y="840" font-size="9.6" fill="#000" stroke="#000" stroke-width="0.1" text-anchor="start" style="font-family:'Liberation Sans',sans-serif;text-rendering:geometricPrecision" xml:space="preserve" textLength="48.900000000000006" lengthAdjust="spacingAndGlyphs">7 Oct 18:55</text>
<text x="1348.3" y="840" font-size="9.6" fill="#000" stroke="#000" stroke-width="0.1" text-anchor="start" style="font-family:'Liberation Sans',sans-serif;text-rendering:geometricPrecision" xml:space="preserve" textLength="54.300000000000004" lengthAdjust="spacingAndGlyphs">10 Oct 10:55</text>
<g shape-rendering="crispEdges">
<rect x="2" y="0" width="1" height="15" fill="#a0a0a0"/>
<rect x="239" y="0" width="1" height="15" fill="#a0a0a0"/>
<rect x="276" y="0" width="1" height="15" fill="#a0a0a0"/>
<rect x="333" y="0" width="1" height="15" fill="#a0a0a0"/>
<rect x="423" y="0" width="1" height="15" fill="#a0a0a0"/>
<rect x="428" y="0" width="1" height="15" fill="#a0a0a0"/>
<rect x="456" y="0" width="1" height="15" fill="#a0a0a0"/>
<rect x="485" y="0" width="1" height="15" fill="#a0a0a0"/>
<rect x="607" y="0" width="1" height="15" fill="#a0a0a0"/>
<rect x="673" y="0" width="1" height="15" fill="#a0a0a0"/>
<rect x="912" y="0" width="1" height="15" fill="#a0a0a0"/>
<rect x="1062" y="0" width="1" height="15" fill="#a0a0a0"/>
<rect x="1174" y="0" width="1" height="15" fill="#a0a0a0"/>
<rect x="242" y="1" width="3" height="1" fill="#a8a8a8"/>
<rect x="242" y="3" width="3" height="1" fill="#a8a8a8"/>
<rect x="242" y="5" width="3" height="1" fill="#a8a8a8"/>
<rect x="242" y="7" width="3" height="1" fill="#a8a8a8"/>
<rect x="242" y="9" width="3" height="1" fill="#a8a8a8"/>
<rect x="242" y="11" width="3" height="1" fill="#a8a8a8"/>
<rect x="242" y="13" width="3" height="1" fill="#a8a8a8"/>
<rect x="610" y="1" width="3" height="1" fill="#a8a8a8"/>
<rect x="610" y="3" width="3" height="1" fill="#a8a8a8"/>
<rect x="610" y="5" width="3" height="1" fill="#a8a8a8"/>
<rect x="610" y="7" width="3" height="1" fill="#a8a8a8"/>
<rect x="610" y="9" width="3" height="1" fill="#a8a8a8"/>
<rect x="610" y="11" width="3" height="1" fill="#a8a8a8"/>
<rect x="610" y="13" width="3" height="1" fill="#a8a8a8"/>
<rect x="916" y="1" width="3" height="1" fill="#a8a8a8"/>
<rect x="916" y="3" width="3" height="1" fill="#a8a8a8"/>
<rect x="916" y="5" width="3" height="1" fill="#a8a8a8"/>
<rect x="916" y="7" width="3" height="1" fill="#a8a8a8"/>
<rect x="916" y="9" width="3" height="1" fill="#a8a8a8"/>
<rect x="916" y="11" width="3" height="1" fill="#a8a8a8"/>
<rect x="916" y="13" width="3" height="1" fill="#a8a8a8"/>
<rect x="277" y="0" width="24" height="15" fill="#f5f5f5"/>
<rect x="620" y="0" width="21" height="15" fill="#f5f5f5"/>
<rect x="1063" y="0" width="24" height="15" fill="#f5f5f5"/>
</g>
<rect x="12.5" y="-2.5" width="10" height="12" fill="#fff" stroke="#777" stroke-width="1"/>
<path d="M14 3h6M14 5h6M14 7h4" stroke="#888" stroke-width="1"/>
<path d="M20 3.5h4v4h4v4h-4v4h-4v-4h-4v-4h4z" fill="#22cc22" stroke="#0a8a0a" stroke-width="1" transform="translate(-0.5,-0.5)"/>
<g stroke="#000" stroke-width="1" fill="none" shape-rendering="crispEdges" transform="translate(0,-1)">
<path d="M31 2.5h6M32 5.5h5M31 7.5h6M34 2v9M32 9.5l-1 1M36 9l1 1M38 1.5v8l-1 1M38.5 2.5h4M40.5 3v8"/>
<path d="M45 1l1 1M44 4.5h2v5l1 1M48.5 1.5h6M52.5 2v8.5h-2"/>
<path d="M57.5 0.5h8v6h-8zM57.5 3.5h8M61.5 0v11M56 8.5h11"/>
</g>
<path d="M80 6 L86 0 L95 5 L89 12 Z" fill="#e8b820" stroke="#9a6a10" stroke-width="1"/>
<path d="M80 7 L89 13 L95 6" fill="none" stroke="#b07a18" stroke-width="1.5"/>
<rect x="109" y="-2" width="11" height="8" fill="#1a90f0"/>
<rect x="112" y="-1" width="1" height="7" fill="#e8f4ff"/><rect x="114" y="2" width="4" height="1" fill="#e8f4ff"/>
<path d="M108.5 12.5 A2.2 2.2 0 0 1 109.8 8.4 A3.6 3.6 0 0 1 116.5 6.2 A3 3 0 0 1 120.6 9.2 A1.7 1.7 0 0 1 121.3 12.5 Z" fill="#e6ebf4" stroke="#6078a8" stroke-width="1"/>
<path d="M143 5 m-7.5 0 a7.5 7.5 0 0 1 7.5 -7.5 M135.5 5 a7.5 7.5 0 0 0 7.5 7.5" stroke="#7a9ae0" stroke-width="1" fill="none"/>
<path d="M143 12.5 a7.5 7.5 0 0 0 0 -15 z" fill="#b8d8b8" opacity="0.8"/>
<path d="M138.5 5 a4.5 4.5 0 0 1 4.5 -4.5 M138.5 5 a4.5 4.5 0 0 0 4.5 4.5" stroke="#4a7ad8" stroke-width="1" fill="none"/>
<path d="M143 0.5 a4.5 4.5 0 0 1 0 9" stroke="#7ab07a" stroke-width="1" fill="none"/>
<circle cx="142.9" cy="4.7" r="1.7" fill="#2050c0"/>
<path d="M143.5 5 v8" stroke="#20a020" stroke-width="1.3"/>
<ellipse cx="170" cy="1" rx="8" ry="4" fill="#5aaae0"/>
<path d="M162 3 L178 3 L172 12 L168 12 Z" fill="#f0d040"/>
<circle cx="174.5" cy="8.5" r="4.5" fill="#d02010"/>
<rect x="173" y="7" width="3" height="3" fill="#fff"/>
<g stroke="#000" stroke-width="1" fill="none" shape-rendering="crispEdges" transform="translate(0,-1)">
<path d="M184.5 0v10M191.5 0v10M184.5 2.5h7M184.5 5.5h7M184.5 9.5h7"/>
<path d="M195 2.5h4M195 6l3 -1l1 3M194.5 9.5h5M201 2.5h4v8h-1.5M203 1v6l-2 4"/>
<path d="M207 1.5h11M209 4l-2 2M216 4l2 2M208.5 10.5l8 -4M208.5 6.5l8 4"/>
<path d="M220.5 0.5h8v3h-8zM221 5.5h9l-1 5h-2M222 7l-2 3M225 7l-2 3M228 7l-2 3"/>
</g>
<g stroke="#555" stroke-width="1" fill="none" shape-rendering="crispEdges">
<path d="M256.5 0v13M254 10.5h13"/>
<path d="M265.5 8.5l2.5 2l-2.5 2z" fill="#555" stroke="none"/>
<path d="M284.5 0v13M282 10.5h13"/>
<path d="M293.5 8.5l2.5 2l-2.5 2z" fill="#555" stroke="none"/>
<path d="M312.5 0v13M310 10.5h13"/>
<path d="M321.5 8.5l2.5 2l-2.5 2z" fill="#555" stroke="none"/>
<path d="M436.5 0v13M434 10.5h13"/>
<path d="M445.5 8.5l2.5 2l-2.5 2z" fill="#555" stroke="none"/>
<path d="M464.5 0v13M462 10.5h13"/>
<path d="M473.5 8.5l2.5 2l-2.5 2z" fill="#555" stroke="none"/>
</g>
<path d="M261.5 1v7M260 1.5h2M260 7.5h2" stroke="#2a9a2a" stroke-width="1" fill="none" shape-rendering="crispEdges"/>
<rect x="288.5" y="-1" width="4" height="7.5" fill="#40e040" stroke="#0a8a0a" stroke-width="1"/>
<path d="M290.5 6.5v2.5" stroke="#0a8a0a" stroke-width="1"/>
<path d="M311 7 L316 2.5 L322 6.5" stroke="#2a9a2a" stroke-width="1.2" fill="none"/>
<circle cx="348" cy="3" r="5" fill="#d8ecff" stroke="#3a7ad0" stroke-width="1.3"/>
<path d="M345.5 3h5" stroke="#3a7ad0" stroke-width="1.5"/>
<path d="M348 0.5v5" stroke="#3a7ad0" stroke-width="1.5"/>
<path d="M351.5 6 L357 12" stroke="#c8a020" stroke-width="2.5"/>
<circle cx="375.5" cy="3" r="5" fill="#d8ecff" stroke="#3a7ad0" stroke-width="1.3"/>
<path d="M373.0 3h5" stroke="#3a7ad0" stroke-width="1.5"/>
<path d="M379.0 6 L384.5 12" stroke="#c8a020" stroke-width="2.5"/>
<g shape-rendering="crispEdges">
<rect x="398" y="-1" width="8" height="6" fill="#2a9a2a"/><rect x="407" y="-1" width="8" height="6" fill="#3a6ad8"/>
<rect x="398" y="6" width="8" height="7" fill="#3a6ad8"/><rect x="407" y="6" width="8" height="7" fill="#2a9a2a"/>
<rect x="400" y="1" width="4" height="1" fill="#fff"/><rect x="409" y="1" width="4" height="1" fill="#fff"/><rect x="400" y="9" width="4" height="1" fill="#fff"/><rect x="409" y="9" width="4" height="1" fill="#fff"/>
</g>
<path d="M442 3 L446 5.5 L442 8 Z" fill="none" stroke="#2a9a2a" stroke-width="1"/>
<path d="M470.5 0v10" stroke="#3a6ad8" stroke-width="1"/><path d="M476 4.5h-4M473.5 2l-2.5 2.5l2.5 2.5" stroke="#d04010" stroke-width="1.2" fill="none"/>
<rect x="495.5" y="-1.5" width="9" height="11" fill="#f4f4f4" stroke="#777"/>
<path d="M502 4h4v4h4v4h-4v4h-4v-4h-4v-4h4z" fill="#19c019" stroke="#0a8a0a" stroke-width="1" transform="translate(1,-1.5)"/>
<path d="M516 4h5.5l-2.75 3z" fill="#000"/>
<path d="M555 4h5.5l-2.75 3z" fill="#000"/>
<path d="M594 4h5.5l-2.75 3z" fill="#000"/>
<path d="M901 4h5.5l-2.75 3z" fill="#000"/>
<circle cx="541" cy="5" r="8" fill="#1e6ad0"/><circle cx="541" cy="5" r="6" fill="#eef4fc"/><path d="M541 1.5v3.5h3" stroke="#333" stroke-width="1" fill="none"/>
<rect x="572.5" y="-1.5" width="16" height="13" fill="#f4f8ff" stroke="#3a6ad8"/><path d="M573 5.5h15" stroke="#3a6ad8"/>
<path d="M574 3l3 -1l3 1l3 -1l4 0" stroke="#c03a10" fill="none"/><path d="M574 9l3 -1l3 1l3 -2l4 1" stroke="#2a9a2a" fill="none"/>
<path d="M623 0 L623 9 L625.5 7 L627.5 11 L629 10 L627 6.5 L630.5 6.5 Z" fill="#444"/>
<path d="M649 5.5h15M656.5 0v13" stroke="#555" stroke-width="1" shape-rendering="crispEdges"/>
<path d="M690.5 0v11M713 5.5h12" stroke="#555" shape-rendering="crispEdges"/>
<path d="M740 12 L753 1" stroke="#666" stroke-width="1.1"/>
<path d="M767 10 L778 1M768 12 L779 3M770 2 L772 8M774 2 L776 8" stroke="#555" stroke-width="1" fill="none"/>
<text x="778" y="14" font-size="6.5" font-weight="bold" fill="#333" style="font-family:'Liberation Sans',sans-serif;text-rendering:geometricPrecision">E</text>
<path d="M796 1.5h12M796 5.5h12M796 9.5h8" stroke="#555" stroke-dasharray="1,1" shape-rendering="crispEdges"/>
<text x="806" y="14" font-size="6.5" font-weight="bold" fill="#333" style="font-family:'Liberation Sans',sans-serif;text-rendering:geometricPrecision">F</text>
<text x="825" y="11" font-size="12" fill="#555" style="font-family:'Liberation Sans',sans-serif;text-rendering:geometricPrecision">A</text>
<rect x="852.5" y="1.5" width="12" height="11" fill="none" stroke="#777" stroke-dasharray="1,1" shape-rendering="crispEdges"/>
<text x="854" y="11" font-size="11" font-weight="bold" fill="#555" style="font-family:'Liberation Sans',sans-serif;text-rendering:geometricPrecision">T</text>
<path d="M880 3.5 L883 0 L884.5 -1 L887 3.5 Z M887 8.5 L894 8.5 L890.5 12 Z M889 7 h3 v2 h-3z" fill="#444"/><path d="M882 6.5 L884.5 9 L889 3.5" stroke="#444" stroke-width="1.6" fill="none"/>
<text x="927.5" y="9" font-size="10" fill="#333" textLength="13" lengthAdjust="spacingAndGlyphs" style="font-family:'Liberation Sans',sans-serif;text-rendering:geometricPrecision">M1</text>
<text x="955.5" y="9" font-size="10" fill="#333" textLength="13" lengthAdjust="spacingAndGlyphs" style="font-family:'Liberation Sans',sans-serif;text-rendering:geometricPrecision">M5</text>
<text x="981.5" y="9" font-size="10" fill="#333" textLength="18" lengthAdjust="spacingAndGlyphs" style="font-family:'Liberation Sans',sans-serif;text-rendering:geometricPrecision">M15</text>
<text x="1009.5" y="9" font-size="10" fill="#333" textLength="18" lengthAdjust="spacingAndGlyphs" style="font-family:'Liberation Sans',sans-serif;text-rendering:geometricPrecision">M30</text>
<text x="1040.5" y="9" font-size="10" fill="#333" textLength="12" lengthAdjust="spacingAndGlyphs" style="font-family:'Liberation Sans',sans-serif;text-rendering:geometricPrecision">H1</text>
<text x="1067.5" y="9" font-size="10" fill="#333" textLength="13" lengthAdjust="spacingAndGlyphs" style="font-family:'Liberation Sans',sans-serif;text-rendering:geometricPrecision">H4</text>
<text x="1096" y="9" font-size="10" fill="#333" textLength="13" lengthAdjust="spacingAndGlyphs" style="font-family:'Liberation Sans',sans-serif;text-rendering:geometricPrecision">D1</text>
<text x="1124" y="9" font-size="10" fill="#333" textLength="14" lengthAdjust="spacingAndGlyphs" style="font-family:'Liberation Sans',sans-serif;text-rendering:geometricPrecision">W1</text>
<text x="1150" y="9" font-size="10" fill="#333" textLength="16" lengthAdjust="spacingAndGlyphs" style="font-family:'Liberation Sans',sans-serif;text-rendering:geometricPrecision">MN</text>
<circle cx="1643.6" cy="2.2" r="3.8" fill="#f4f6fc" stroke="#2a6ad8" stroke-width="1.3"/><path d="M1640.5 5.5 L1636.5 9.5" stroke="#2a5ad0" stroke-width="2.6"/>
<ellipse cx="1665.3" cy="7.3" rx="5.3" ry="4.6" fill="#e4e6ee" stroke="#a8a8a8"/><path d="M1662.5 11 L1663 13.5 L1666 11.5" fill="#e4e6ee" stroke="#909090" stroke-width="0.8"/>
<circle cx="1674.4" cy="2.5" r="8.3" fill="#d9361c"/>
<path d="M1673.3 -1 V6.2 M1671 6.5 H1675.8" stroke="#fff" stroke-width="1" fill="none"/>
</svg>
</body></html>
